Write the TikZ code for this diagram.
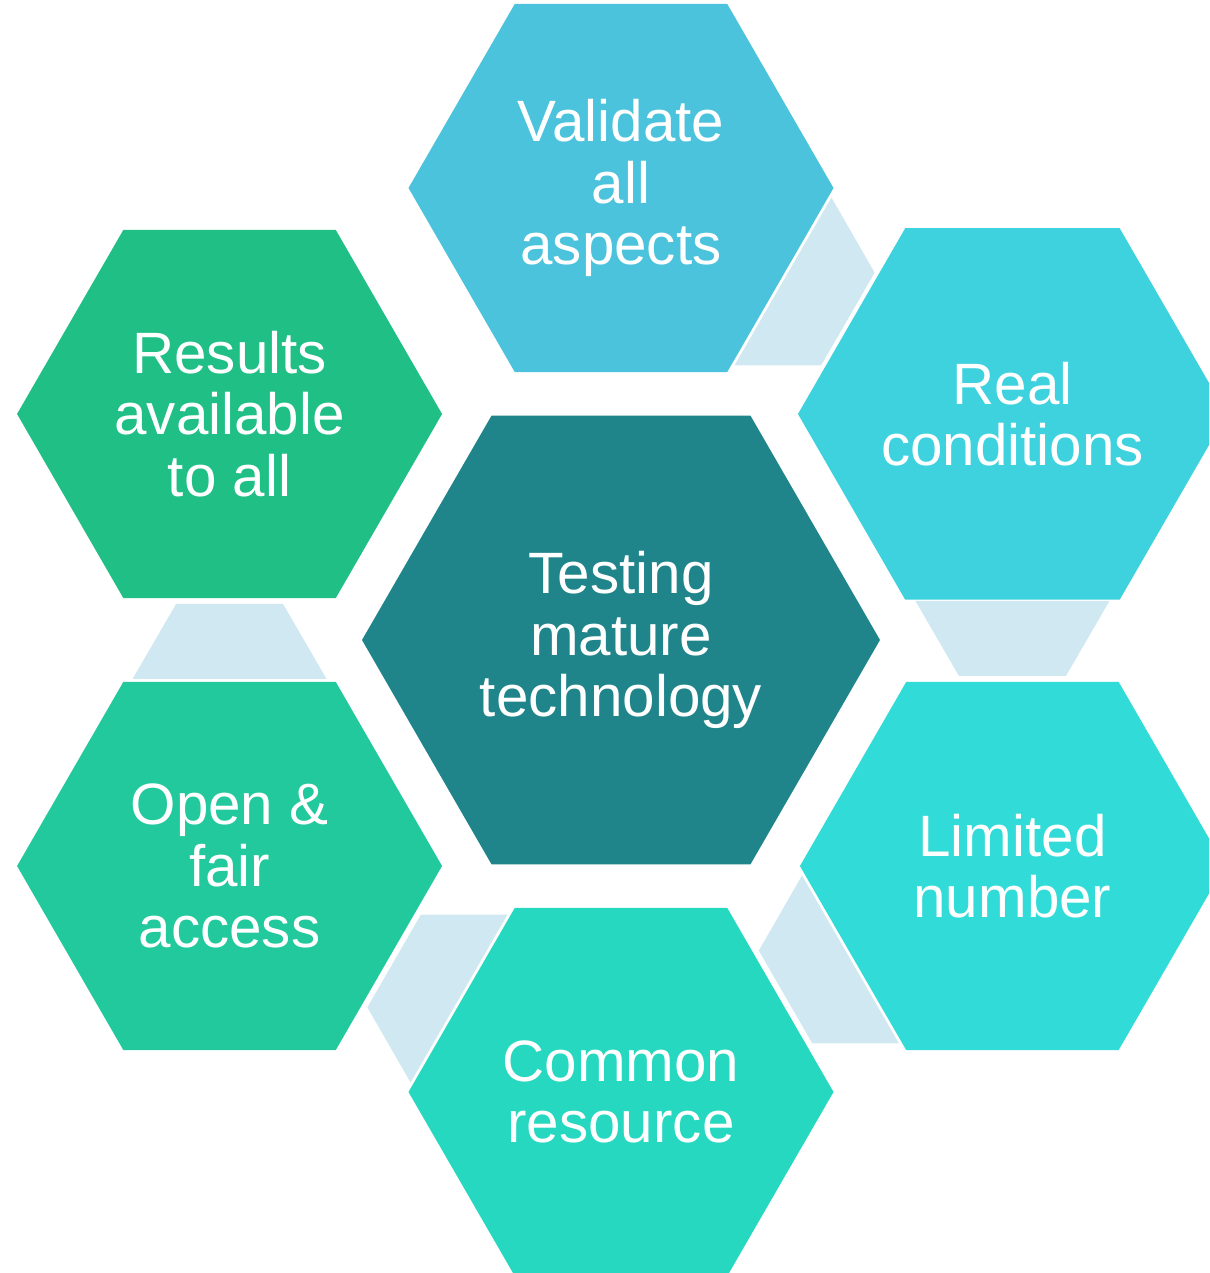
\documentclass[tikz,border=0pt]{standalone}
\usepackage{fontspec}
\setmainfont{Liberation Sans}
\usetikzlibrary{shapes.geometric,calc}
\definecolor{midcol}{HTML}{1F858A}
\definecolor{valcol}{HTML}{4BC3DC}
\definecolor{realcol}{HTML}{3ED2DF}
\definecolor{limcol}{HTML}{31DBD7}
\definecolor{comcol}{HTML}{26D8BF}
\definecolor{opencol}{HTML}{22C99D}
\definecolor{rescol}{HTML}{1FBF85}
\definecolor{linkcol}{HTML}{D0E8F1}
\begin{document}
\begin{tikzpicture}[
		  hexa/.style={regular polygon, regular polygon sides=6, minimum size=4.25cm, inner sep=0pt,
		    text=white, align=center, font=\fontsize{16.6}{17.5}\selectfont},
		  big hexa/.style={hexa, minimum size=5.18cm},
		  link/.style={fill=linkcol}]
		  \useasboundingbox (0,0) rectangle (12.09,12.73);
		  \clip (0,0) rectangle (12.09,12.73);
		  \node[big hexa, fill=midcol] (mid) at (6.21,6.33) {Testing\\mature\\technology};
		  \foreach \n/\a/\c/\t in {val/90/valcol/{Validate\\all\\aspects},
		      real/30/realcol/{Real\\conditions},
		      lim/-30/limcol/{Limited\\number},
		      com/-90/comcol/{Common\\resource},
		      open/-150/opencol/{Open \&\\fair\\access},
		      res/150/rescol/{Results\\available\\to all}}{
		      \node[hexa, fill=\c] (\n) at ($(mid)+(\a:4.52)$) {\t};
		  }
		  \foreach \a/\b in {val/real, real/lim, lim/com, com/open, open/res}{
		      \fill[link] ($(\a)!1.87cm!(\b)!0.97cm!90:(\b)$) -- ($(\a)!1.87cm!(\b)!0.97cm!-90:(\b)$)
		        -- ($(\a)!2.62cm!(\b)!0.535cm!-90:(\b)$) -- ($(\a)!2.62cm!(\b)!0.535cm!90:(\b)$) -- cycle;
		  }
	\end{tikzpicture}
\end{document}
